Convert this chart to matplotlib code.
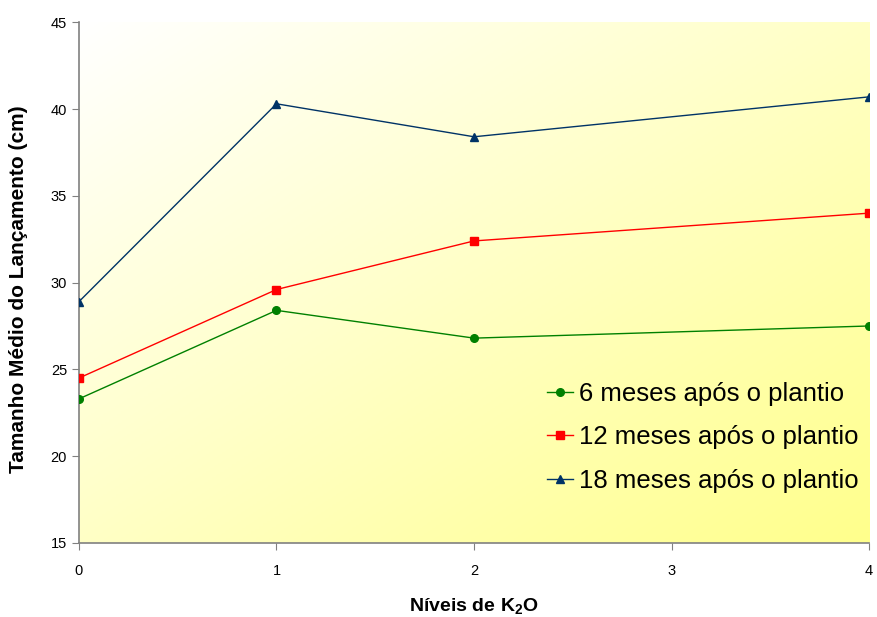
import matplotlib
matplotlib.use('Agg')
import matplotlib.pyplot as plt
import numpy as np
from matplotlib.colors import LinearSegmentedColormap

plt.rcParams['font.family'] = ['Liberation Sans', 'DejaVu Sans']
plt.rcParams['mathtext.default'] = 'regular'

# dados
niveis = [0, 1, 2, 4]
meses6 = [23.3, 28.4, 26.8, 27.5]
meses12 = [24.5, 29.6, 32.4, 34.0]
meses18 = [28.9, 40.3, 38.4, 40.7]
rotulos = ['6 meses após o plantio', '12 meses após o plantio', '18 meses após o plantio']
ticks_x = [0, 1, 2, 3, 4]
ticks_y = [15, 20, 25, 30, 35, 40, 45]

fig = plt.figure(figsize=(8.77, 6.17), dpi=100)
ax = fig.add_axes([0.090, 0.120, 0.901, 0.844])

# fundo degradê branco -> amarelo
gx, gy = np.meshgrid(np.linspace(0, 1, 200), np.linspace(0, 1, 200))
grad = (gx + gy) / 2
cmap = LinearSegmentedColormap.from_list('fundo', ['#FFFFFF', '#FFFF8C'])
ax.imshow(grad, cmap=cmap, extent=[0, 1, 0, 1], transform=ax.transAxes,
          origin='upper', aspect='auto', zorder=0)

ax.plot(niveis, meses6, color='#008000', marker='o', markersize=5.5, lw=1.0, label=rotulos[0], zorder=3)
ax.plot(niveis, meses12, color='#FF0000', marker='s', markersize=5.5, lw=1.0, label=rotulos[1], zorder=3)
ax.plot(niveis, meses18, color='#003366', marker='^', markersize=5.5, lw=1.0, label=rotulos[2], zorder=3)

ax.set_xlim(0, 4)
ax.set_ylim(15, 45)
ax.set_xticks(ticks_x)
ax.set_yticks(ticks_y)
ax.tick_params(axis='both', labelsize=10.5, color='#808080', length=5, direction='out')
ax.tick_params(axis='x', pad=10)

for s in ['top', 'right']:
    ax.spines[s].set_visible(False)
for s in ['left', 'bottom']:
    ax.spines[s].set_color('#808080')
    ax.spines[s].set_linewidth(1.2)

ax.set_xlabel('Níveis de K$_{\\mathregular{2}}$O', fontsize=14, fontweight='bold')
ax.xaxis.set_label_coords(0.5, -0.102)
ax.set_ylabel('Tamanho Médio do Lançamento (cm)', fontsize=15, fontweight='bold')
ax.yaxis.set_label_coords(-0.064, 0.4875)

ax.legend(loc='center right', bbox_to_anchor=(1.0, 0.203), frameon=False, fontsize=18.5,
          borderaxespad=0, handlelength=1.0, handletextpad=0.25, labelspacing=0.75)

plt.savefig('out.png', dpi=100)
